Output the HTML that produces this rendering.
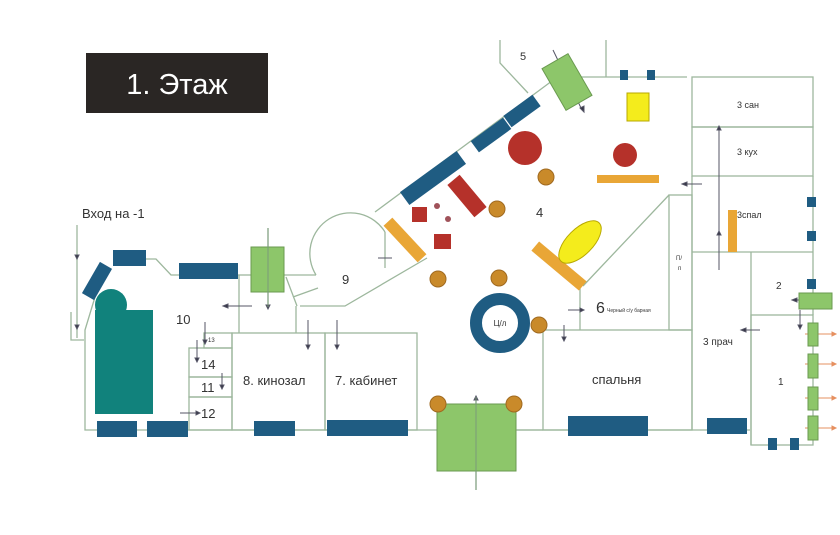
<!DOCTYPE html>
<html><head><meta charset="utf-8"><style>
html,body{margin:0;padding:0;background:#fff;}
svg{display:block;}
text{font-family:"Liberation Sans","DejaVu Sans",sans-serif;fill:#333;}
</style></head><body>
<svg width="840" height="535" viewBox="0 0 840 535" xmlns="http://www.w3.org/2000/svg">
<rect width="840" height="535" fill="#fff"/>
<!-- title -->
<rect x="86" y="53" width="182" height="60" fill="#2a2624"/>
<text x="177" y="94" font-size="29" fill="#fff" text-anchor="middle" style="fill:#fff">1. Этаж</text>

<g fill="none" stroke="#9db79d" stroke-width="1.3">
<!-- left entrance -->
<line x1="77" y1="225" x2="77" y2="338"/>
<polyline points="71,312 71,340 84,340"/>
<polyline points="95,297 85,330 85,430 750,430"/>
<polyline points="146,259 156,259 171,275 179,275"/>
<line x1="238" y1="275" x2="252" y2="275"/>
<line x1="268" y1="228" x2="268" y2="307"/>
<line x1="239" y1="275" x2="239" y2="333"/>
<line x1="284" y1="275" x2="316" y2="275"/>
<path d="M316,275 A35,35 0 1 1 385,232"/>
<line x1="385" y1="232" x2="385" y2="268"/>
<polyline points="427,258 345,306 300,306"/>
<line x1="286" y1="277" x2="297" y2="306"/>
<line x1="293" y1="297" x2="318" y2="288"/>
<line x1="296" y1="306" x2="296" y2="333"/>
<!-- rooms left -->
<rect x="232" y="333" width="93" height="97"/>
<rect x="325" y="333" width="92" height="97"/>
<rect x="204" y="333" width="28" height="15"/>
<rect x="189" y="348" width="43" height="29"/>
<rect x="189" y="377" width="43" height="20"/>
<rect x="189" y="397" width="43" height="33"/>
<!-- diagonal wall -->
<line x1="375" y1="212" x2="560" y2="75"/>
<polyline points="500,40 500,63 528,93"/>
<line x1="606" y1="40" x2="606" y2="77"/>
<line x1="580" y1="77" x2="687" y2="77"/>
<!-- right rooms -->
<rect x="692" y="77" width="121" height="50"/>
<rect x="692" y="127" width="121" height="49"/>
<line x1="692" y1="176" x2="692" y2="430"/>
<line x1="813" y1="176" x2="813" y2="315"/>
<line x1="692" y1="252" x2="813" y2="252"/>
<line x1="751" y1="252" x2="751" y2="445"/>
<rect x="751" y="315" width="62" height="130"/>
<rect x="669" y="195" width="23" height="135"/>
<polyline points="583,286 669,195"/>
<line x1="580" y1="286" x2="580" y2="330"/>
<rect x="543" y="330" width="149" height="100"/>
<line x1="476" y1="397" x2="476" y2="490"/>
<line x1="517" y1="430" x2="543" y2="430"/>
</g>

<!-- arrows -->
<g stroke="#556" stroke-width="1" fill="#334">
<line x1="223" y1="306" x2="252" y2="306"/><path d="M223,306 l5,-2 v4z"/>
<path d="M266,305 h4 l-2,4z"/>
<path d="M75,255 h4 l-2,4z"/><path d="M75,325 h4 l-2,4z"/>
<line x1="308" y1="320" x2="308" y2="345"/><path d="M306,345 h4 l-2,4z"/>
<line x1="337" y1="320" x2="337" y2="345"/><path d="M335,345 h4 l-2,4z"/>
<line x1="205" y1="322" x2="205" y2="340"/><path d="M203,340 h4 l-2,4z"/>
<line x1="197" y1="340" x2="197" y2="358"/><path d="M195,358 h4 l-2,4z"/>
<line x1="222" y1="373" x2="222" y2="385"/><path d="M220,385 h4 l-2,4z"/>
<line x1="180" y1="413" x2="196" y2="413"/><path d="M196,411 v4 l4,-2z"/>
<line x1="682" y1="184" x2="702" y2="184"/><path d="M682,184 l5,-2 v4z"/>
<line x1="719" y1="240" x2="719" y2="130"/><path d="M717,130 h4 l-2,-4z"/>
<line x1="719" y1="270" x2="719" y2="235"/><path d="M717,235 h4 l-2,-4z"/>
<line x1="741" y1="330" x2="760" y2="330"/><path d="M741,330 l5,-2 v4z"/>
<line x1="792" y1="300" x2="805" y2="300"/><path d="M792,300 l5,-2 v4z"/>
<line x1="800" y1="310" x2="800" y2="325"/><path d="M798,325 h4 l-2,4z"/>
<line x1="568" y1="310" x2="580" y2="310"/><path d="M580,308 v4 l4,-2z"/>
<line x1="564" y1="325" x2="564" y2="337"/><path d="M562,337 h4 l-2,4z"/>
<line x1="476" y1="400" x2="476" y2="400"/><path d="M474,400 h4 l-2,-4z"/>
<line x1="553" y1="50" x2="582" y2="110"/><path d="M580,108 l4,4 l0,-6z"/>
<line x1="378" y1="258" x2="392" y2="258"/>
</g>
<g stroke="#e69060" stroke-width="1" fill="#e69060">
<line x1="805" y1="334" x2="835" y2="334"/><path d="M832,332 v4 l4,-2z"/>
<line x1="805" y1="364" x2="835" y2="364"/><path d="M832,362 v4 l4,-2z"/>
<line x1="805" y1="398" x2="835" y2="398"/><path d="M832,396 v4 l4,-2z"/>
<line x1="805" y1="428" x2="835" y2="428"/><path d="M832,426 v4 l4,-2z"/>
</g>

<!-- blue furniture -->
<g fill="#1f5c82">
<rect x="-18" y="-7" width="36" height="14" transform="translate(97,281) rotate(-60)"/>
<rect x="113" y="250" width="33" height="16"/>
<rect x="179" y="263" width="59" height="16"/>
<rect x="97" y="421" width="40" height="16"/>
<rect x="147" y="421" width="41" height="16"/>
<rect x="254" y="421" width="41" height="15"/>
<rect x="327" y="420" width="81" height="16"/>
<rect x="568" y="416" width="80" height="20"/>
<rect x="707" y="418" width="40" height="16"/>
<rect x="-35" y="-8" width="70" height="16" transform="translate(433,178) rotate(-36)"/>
<rect x="-20" y="-7" width="40" height="14" transform="translate(491,135) rotate(-36)"/>
<rect x="-18" y="-7" width="36" height="14" transform="translate(522,111) rotate(-36)"/>
<rect x="620" y="70" width="8" height="10"/>
<rect x="647" y="70" width="8" height="10"/>
<rect x="807" y="197" width="9" height="10"/>
<rect x="807" y="231" width="9" height="10"/>
<rect x="807" y="279" width="9" height="10"/>
<rect x="768" y="438" width="9" height="12"/>
<rect x="790" y="438" width="9" height="12"/>
</g>
<circle cx="500" cy="323" r="24" fill="none" stroke="#1f5c82" stroke-width="12"/>
<text x="500" y="326" font-size="8" text-anchor="middle">Ц/л</text>

<!-- teal -->
<circle cx="111" cy="305" r="16" fill="#11827c"/>
<rect x="95" y="310" width="58" height="104" fill="#11827c"/>

<!-- green -->
<g fill="#8dc66a" stroke="#6a9a50" stroke-width="1">
<rect x="251" y="247" width="33" height="45"/>
<rect x="-15" y="-24" width="30" height="48" transform="translate(567,82) rotate(-30)"/>
<rect x="437" y="404" width="79" height="67"/>
<rect x="799" y="293" width="33" height="16"/>
<rect x="808" y="323" width="10" height="23"/>
<rect x="808" y="354" width="10" height="24"/>
<rect x="808" y="387" width="10" height="23"/>
<rect x="808" y="416" width="10" height="24"/>
</g>
<line x1="476" y1="397" x2="476" y2="490" stroke="#7a9a7a" stroke-width="1"/>
<line x1="268" y1="228" x2="268" y2="307" stroke="#7a9a7a" stroke-width="1"/>

<!-- red -->
<g fill="#b5312a">
<circle cx="525" cy="148" r="17"/>
<circle cx="625" cy="155" r="12"/>
<rect x="-21" y="-8" width="42" height="16" transform="translate(467,196) rotate(50)"/>
<rect x="412" y="207" width="15" height="15"/>
<rect x="434" y="234" width="17" height="15"/>
</g>
<circle cx="437" cy="206" r="3" fill="#a0525a"/>
<circle cx="448" cy="219" r="3" fill="#a0525a"/>

<!-- orange/yellow -->
<g fill="#e9a636">
<rect x="-25" y="-6" width="50" height="12" transform="translate(405,240) rotate(47)"/>
<rect x="-31" y="-6" width="62" height="12" transform="translate(559,266) rotate(40)"/>
<rect x="597" y="175" width="62" height="8"/>
<rect x="728" y="210" width="9" height="42"/>
</g>
<rect x="627" y="93" width="22" height="28" fill="#f4ec1c" stroke="#b8a800" stroke-width="1"/>
<ellipse cx="580" cy="242" rx="27" ry="13" transform="rotate(-45 580 242)" fill="#f4ec1c" stroke="#b8a800" stroke-width="1"/>

<!-- brown circles -->
<g fill="#c98a2a" stroke="#a06a20" stroke-width="1">
<circle cx="546" cy="177" r="8"/>
<circle cx="497" cy="209" r="8"/>
<circle cx="438" cy="279" r="8"/>
<circle cx="499" cy="278" r="8"/>
<circle cx="539" cy="325" r="8"/>
<circle cx="438" cy="404" r="8"/>
<circle cx="514" cy="404" r="8"/>
</g>

<!-- labels -->
<g font-size="13">
<text x="82" y="218">Вход на -1</text>
<text x="176" y="324">10</text>
<text x="342" y="284">9</text>
<text x="208" y="342" font-size="6">13</text>
<text x="201" y="369">14</text>
<text x="201" y="392">11</text>
<text x="201" y="418">12</text>
<text x="243" y="385">8. кинозал</text>
<text x="335" y="385">7. кабинет</text>
<text x="536" y="217">4</text>
<text x="520" y="60" font-size="11">5</text>
<text x="596" y="313" font-size="16">6</text>
<text x="607" y="312" font-size="5">Черный с/у барная</text>
<text x="592" y="384">спальня</text>
<text x="737" y="108" font-size="9">3 сан</text>
<text x="737" y="155" font-size="9">3 кух</text>
<text x="737" y="218" font-size="9">3спал</text>
<text x="703" y="345" font-size="10">3 прач</text>
<text x="776" y="289" font-size="10">2</text>
<text x="778" y="385" font-size="10">1</text>
<text x="676" y="260" font-size="6">П/</text>
<text x="678" y="270" font-size="6">п</text>
</g>
</svg>
</body></html>
